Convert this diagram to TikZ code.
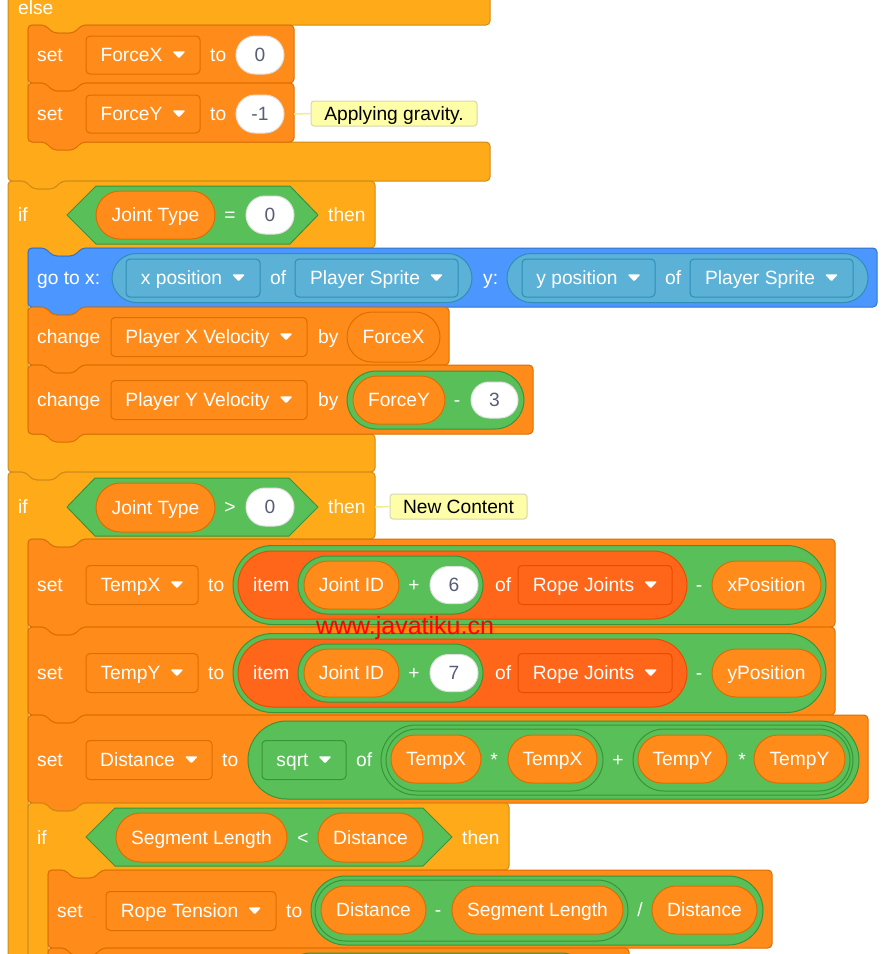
\documentclass[tikz,border=0pt]{standalone}
\usepackage{fontspec}
\setmainfont{Liberation Sans}
\usepackage{graphicx}
\usetikzlibrary{shapes.misc}

\definecolor{ctrlfill}{HTML}{FFAB19}
\definecolor{ctrlline}{HTML}{CF8B17}
\definecolor{varfill}{HTML}{FF8C1A}
\definecolor{varline}{HTML}{DB6E00}
\definecolor{motionfill}{HTML}{4C97FF}
\definecolor{motionline}{HTML}{3373CC}
\definecolor{sensfill}{HTML}{5CB1D6}
\definecolor{sensline}{HTML}{2E8EB8}
\definecolor{opfill}{HTML}{59C059}
\definecolor{opline}{HTML}{389438}
\definecolor{listfill}{HTML}{FF661A}
\definecolor{listline}{HTML}{E64D00}
\definecolor{numtext}{HTML}{575E75}
\definecolor{cmtfill}{HTML}{FEFDA8}
\definecolor{cmtline}{HTML}{D9D7B0}
\definecolor{cmtwirecol}{HTML}{F2EC8A}

\newcommand{\blkfont}{\fontsize{19.2}{22}\selectfont}
\newcommand{\ddarrow}{\hspace{10pt}\raisebox{3.5pt}{\tikz\fill[white,rounded corners=1.2pt] (0pt,0pt) -- (13pt,0pt) -- (6.5pt,-7pt) -- cycle;}}

\tikzset{
  blk/.style={line width=1pt, rounded corners=4pt, line join=round},
  ctrlblk/.style={blk, fill=ctrlfill, draw=ctrlline},
  varblk/.style={blk, fill=varfill, draw=varline},
  motionblk/.style={blk, fill=motionfill, draw=motionline},
  txt/.style={inner sep=0pt, text height=13.8pt, text depth=0pt, font=\blkfont, text=white},
  lbl/.style={txt, anchor=west},
  opsym/.style={txt},
  pill/.style={rounded rectangle, line width=1pt, txt},
  varrep/.style={pill, fill=varfill, draw=varline},
  oprep/.style={pill, fill=opfill, draw=opline},
  listrep/.style={pill, fill=listfill, draw=listline},
  sensrep/.style={pill, fill=sensfill, draw=sensline},
  numin/.style={pill, fill=white, draw=black!12, text=numtext},
  ddbox/.style={rectangle, rounded corners=4pt, line width=1pt, txt},
  varddbox/.style={ddbox, fill=varfill, draw=varline},
  sensdd/.style={ddbox, fill=sensfill, draw=sensline},
  listdd/.style={ddbox, fill=listfill, draw=listline},
  opdd/.style={ddbox, fill=opfill, draw=opline},
  boolhex/.style={fill=opfill, draw=opline, line width=1pt, line join=round},
  cmtbox/.style={rectangle, rounded corners=3pt, fill=cmtfill, draw=cmtline, line width=1pt,
    inner sep=0pt, text height=13.8pt, text depth=0pt, font=\blkfont, text=black},
  cmtwire/.style={draw=cmtwirecol, line width=1.5pt}
}

% stack block: [style]{x}{top}{width}{height}
\newcommand{\stackblk}[5][varblk]{%
  \draw[#1] (#2,#3) -- ++(17,0) -- ++(8,8) -- ++(21,0) -- ++(8,-8) -- (#2+#4,#3)
    -- (#2+#4,#3+#5) -- (#2+54,#3+#5) -- ++(-8,8) -- ++(-21,0) -- ++(-8,-8) -- (#2,#3+#5) -- cycle;}
% c block: {x}{top}{width}{header bottom}{arm top}{arm bottom}{arm width}
\newcommand{\cblock}[7]{%
  \draw[ctrlblk] (#1,#2) -- ++(17,0) -- ++(8,8) -- ++(21,0) -- ++(8,-8) -- (#1+#3,#2)
    -- (#1+#3,#4) -- (#1+74,#4) -- ++(-8,8) -- ++(-21,0) -- ++(-8,-8) -- (#1+20,#4)
    -- (#1+20,#5) -- (#1+#7,#5) -- (#1+#7,#6) -- (#1+54,#6) -- ++(-8,8) -- ++(-21,0) -- ++(-8,-8)
    -- (#1,#6) -- cycle;}

\begin{document}
\begin{tikzpicture}[x=1pt, y=-1pt]
  \useasboundingbox (0,0) rectangle (886,954);
  \clip (0,0) rectangle (886,954);
  \fill[white] (0,0) rectangle (886,954);

  % else arm
  \draw[ctrlblk] (8,-20) -- (490,-20) -- (490,25) -- (82,25) -- ++(-8,8) -- ++(-21,0) -- ++(-8,-8)
    -- (28,25) -- (28,142) -- (490,142) -- (490,181) -- (62,181) -- ++(-8,8) -- ++(-21,0) -- ++(-8,-8)
    -- (8,181) -- cycle;
  \node[lbl] (elselbl) at (18,8) {else};

  % set ForceX / ForceY
  \stackblk{28}{25}{266}{58}
  \node[lbl] (setfx) at (37,55) {set};
  \node[varddbox, minimum width=114pt, minimum height=38pt] (ddfx) at (143,55) {ForceX\ddarrow};
  \node[lbl] (tofx) at (210,55) {to};
  \node[numin, minimum width=48pt, minimum height=38pt] (numfx) at (260,55) {0};

  \stackblk{28}{83}{266}{59}
  \node[lbl] (setfy) at (37,114) {set};
  \node[varddbox, minimum width=114pt, minimum height=38pt] (ddfy) at (143,114) {ForceY\ddarrow};
  \node[lbl] (tofy) at (210,114) {to};
  \node[numin, minimum width=48pt, minimum height=38pt] (numfy) at (260,114) {-1};
  \coordinate (fyend) at (294,114);
  \node[cmtbox, minimum width=166pt, minimum height=25pt] (cgrav) at (394,113.5) {Applying gravity.};
  \draw[cmtwire] (fyend) -- (cgrav.west);

  % if joint type = 0
  \cblock{8}{181}{367}{248}{434}{472}{367}
  \node[lbl] (ifa) at (18,215) {if};
  \draw[boolhex] (67,215) -- (96,186) -- (290,186) -- (318,215) -- (290,244) -- (96,244) -- cycle;
  \node[varrep, minimum width=119pt, minimum height=48pt] (jta) at (155.5,215) {Joint Type};
  \node[opsym] (eqa) at (230,215) {=};
  \node[numin, minimum width=48pt, minimum height=38pt] (zeroa) at (270,215) {0};
  \node[lbl] (thena) at (328,215) {then};

  \stackblk[motionblk]{28}{248}{849}{59}
  \node[lbl] (gotox) at (37,278) {go to x:};
  \node[sensrep, minimum width=360pt, minimum height=49pt] (xofrep) at (292,278) {};
  \node[sensdd, minimum width=134pt, minimum height=38pt] (xposdd) at (193,278) {x position\ddarrow};
  \node[lbl] (ofxs) at (270,278) {of};
  \node[sensdd, minimum width=163pt, minimum height=38pt] (sprx) at (376.5,278) {Player Sprite\ddarrow};
  \node[lbl] (ylbl) at (483,278) {y:};
  \node[sensrep, minimum width=361pt, minimum height=49pt] (yofrep) at (687.5,278) {};
  \node[sensdd, minimum width=133pt, minimum height=38pt] (yposdd) at (588.5,278) {y position\ddarrow};
  \node[lbl] (ofys) at (665,278) {of};
  \node[sensdd, minimum width=163pt, minimum height=38pt] (spry) at (771.5,278) {Player Sprite\ddarrow};

  \stackblk{28}{307}{421}{58}
  \node[lbl] (chgx) at (37,337) {change};
  \node[varddbox, minimum width=196pt, minimum height=39pt] (pxv) at (209,337) {Player X Velocity\ddarrow};
  \node[lbl] (byx) at (318,337) {by};
  \node[varrep, minimum width=93pt, minimum height=50pt] (fxrep) at (393.5,337) {ForceX};

  \stackblk{28}{365}{505}{69}
  \node[lbl] (chgy) at (37,400) {change};
  \node[varddbox, minimum width=196pt, minimum height=39pt] (pyv) at (209,400) {Player Y Velocity\ddarrow};
  \node[lbl] (byy) at (318,400) {by};
  \node[oprep, minimum width=177pt, minimum height=58pt] (subfy) at (435.5,400) {};
  \node[varrep, minimum width=92pt, minimum height=48pt] (fyrep) at (399,400) {ForceY};
  \node[opsym] (minfy) at (457,400) {-};
  \node[numin, minimum width=47pt, minimum height=36pt] (three) at (494.5,400) {3};

  % if joint type > 0
  \cblock{8}{472}{367}{539}{1100}{1140}{367}
  \node[lbl] (ifb) at (18,507) {if};
  \draw[boolhex] (67,507) -- (95,478) -- (289,478) -- (318,507) -- (289,536) -- (95,536) -- cycle;
  \node[varrep, minimum width=119pt, minimum height=49pt] (jtb) at (155.5,507.5) {Joint Type};
  \node[opsym] (gtb) at (230,507) {>};
  \node[numin, minimum width=48pt, minimum height=38pt] (zerob) at (270,507) {0};
  \node[lbl] (thenb) at (328,507) {then};
  \coordinate (ifbend) at (375,507);
  \node[cmtbox, minimum width=137pt, minimum height=25pt] (cnew) at (458.5,506.5) {New Content};
  \draw[cmtwire] (ifbend) -- (cnew.west);

  % set TempX / TempY
  \foreach \yy/\vname/\num/\posname [count=\i] in {585/TempX/6/xPosition, 673/TempY/7/yPosition}{
    \stackblk{28}{\yy-46}{807}{88}
    \node[lbl] (set\i) at (37,\yy) {set};
    \node[varddbox, minimum width=112pt, minimum height=39pt] (dd\i) at (142,\yy) {\vname\ddarrow};
    \node[lbl] (to\i) at (208,\yy) {to};
    \node[oprep, minimum width=593pt, minimum height=79pt] (sub\i) at (529.5,\yy) {};
    \node[listrep, minimum width=449pt, minimum height=68pt] (item\i) at (462.5,\yy) {};
    \node[lbl] (itemlbl\i) at (253,\yy) {item};
    \node[oprep, minimum width=185pt, minimum height=58pt] (add\i) at (390.5,\yy) {};
    \node[varrep, minimum width=95pt, minimum height=48pt] (jid\i) at (351.5,\yy) {Joint ID};
    \node[opsym] (plus\i) at (414,\yy) {+};
    \node[numin, minimum width=48pt, minimum height=37pt] (num\i) at (454,\yy) {\num};
    \node[lbl] (of\i) at (495,\yy) {of};
    \node[listdd, minimum width=154pt, minimum height=39pt] (rope\i) at (595,\yy) {Rope Joints\ddarrow};
    \node[opsym] (min\i) at (699,\yy) {-};
    \node[varrep, minimum width=109pt, minimum height=48pt] (pos\i) at (766.5,\yy) {\posname};
  }

  % set Distance
  \stackblk{28}{715}{840}{88}
  \node[lbl] (setd) at (37,760) {set};
  \node[varddbox, minimum width=126pt, minimum height=39pt] (ddd) at (149,760) {Distance\ddarrow};
  \node[lbl] (tod) at (222,760) {to};
  \node[oprep, minimum width=611pt, minimum height=78pt] (sqrtrep) at (553.5,760) {};
  \node[opdd, minimum width=84pt, minimum height=39pt] (sqrtdd) at (304,760) {sqrt\ddarrow};
  \node[lbl] (ofd) at (356,760) {of};
  \node[oprep, minimum width=472pt, minimum height=70pt] (sumrep) at (617,760) {};
  \node[oprep, minimum width=217pt, minimum height=62pt] (mulx) at (494.5,760) {};
  \node[varrep, minimum width=90pt, minimum height=48pt] (txa) at (436,759) {TempX};
  \node[opsym] (mulsymx) at (494,760) {*};
  \node[varrep, minimum width=89pt, minimum height=48pt] (txb) at (552.5,759) {TempX};
  \node[opsym] (plusd) at (618,760) {+};
  \node[oprep, minimum width=217pt, minimum height=62pt] (muly) at (741.5,760) {};
  \node[varrep, minimum width=89pt, minimum height=48pt] (tya) at (682.5,759) {TempY};
  \node[opsym] (mulsymy) at (742,760) {*};
  \node[varrep, minimum width=91pt, minimum height=48pt] (tyb) at (799.5,759) {TempY};

  % if segment length < distance
  \cblock{28}{803}{481}{870}{1100}{1140}{481}
  \node[lbl] (ifc) at (37,838) {if};
  \draw[boolhex] (86,837) -- (115,808) -- (423,808) -- (452,837) -- (423,866) -- (115,866) -- cycle;
  \node[varrep, minimum width=171pt, minimum height=49pt] (sega) at (201.5,837.5) {Segment Length};
  \node[opsym] (ltc) at (303,838) {<};
  \node[varrep, minimum width=105pt, minimum height=49pt] (dista) at (370.5,837.5) {Distance};
  \node[lbl] (thenc) at (462,838) {then};

  \stackblk{48}{870}{724}{78}
  \node[lbl] (setrt) at (57,911) {set};
  \node[varddbox, minimum width=170pt, minimum height=39pt] (ddrt) at (191,911) {Rope Tension\ddarrow};
  \node[lbl] (tort) at (286,911) {to};
  \node[oprep, minimum width=452pt, minimum height=69pt] (divrep) at (537,910.5) {};
  \node[oprep, minimum width=313pt, minimum height=61pt] (subrep) at (471.5,910.5) {};
  \node[varrep, minimum width=105pt, minimum height=48pt] (distb) at (373.5,910) {Distance};
  \node[opsym] (minrt) at (438,910) {-};
  \node[varrep, minimum width=171pt, minimum height=48pt] (segb) at (537.5,910) {Segment Length};
  \node[opsym] (divsym) at (640,910) {/};
  \node[varrep, minimum width=105pt, minimum height=48pt] (distc) at (704.5,910) {Distance};

  \stackblk{48}{948}{581}{80}
  \node[oprep, minimum width=310pt, minimum height=60pt] (nextrep) at (436,983) {};

  % watermark
  \node[inner sep=0pt, font=\fontsize{25}{25}\selectfont, text=red] (wmark) at (405,628) {www.javatiku.cn};
\end{tikzpicture}
\end{document}
